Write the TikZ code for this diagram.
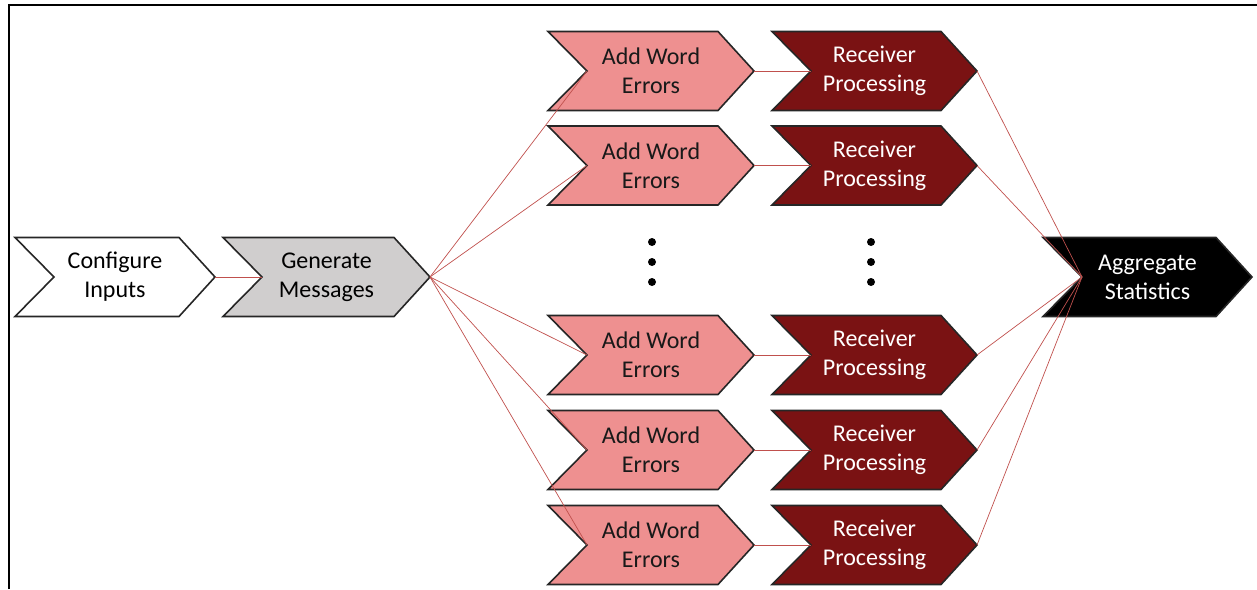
\documentclass[tikz,border=0pt]{standalone}
\usepackage{fontspec}
\setmainfont{Carlito}
\definecolor{genfill}{HTML}{D0CECE}
\definecolor{errfill}{HTML}{EE9090}
\definecolor{recfill}{HTML}{7A1213}
\definecolor{linkred}{HTML}{C0504D}
\tikzset{
  chevshape/.style={draw=black!85, line width=0.8pt, line join=miter},
  chevtext/.style={align=center, inner sep=0pt, font=\fontsize{12}{14.6}\selectfont},
  link/.style={draw=linkred, line width=0.35pt},
  vdot/.style={fill=black}
}
% chevron: name, left x, tip x, centre y, fill, text colour, label
\newcommand\mychevron[7]{%
  \path[chevshape, fill=#5] (#2,#4-39.5) -- (#3-36,#4-39.5) -- (#3,#4)
    -- (#3-36,#4+39.5) -- (#2,#4+39.5) -- (#2+39,#4) -- cycle;
  \node[chevtext, text=#6] (#1) at ({(#2+#3)/2},#4) {#7};
  \coordinate (#1-in) at (#2+39,#4);
  \coordinate (#1-out) at (#3,#4);
}
\begin{document}
\begin{tikzpicture}[x=0.5pt, y=-0.5pt]
\useasboundingbox (0,0) rectangle (1257,589);
% frame
\draw[line width=1pt] (8.5,589) -- (8.5,5) -- (1257,5);

\mychevron{cfg}{15}{215}{277}{white}{black}{Configure\\Inputs}
\mychevron{gen}{223}{430}{277}{genfill}{black}{Generate\\Messages}
\mychevron{agg}{1043}{1252}{277}{black}{white}{Aggregate\\Statistics}

\foreach \r/\yy in {1/71, 2/165.5, 4/355, 5/450, 6/545}{
  \mychevron{err\r}{548}{754}{\yy}{errfill}{black!90}{Add Word\\Errors}
  \mychevron{rec\r}{772}{977}{\yy}{recfill}{white}{Receiver\\Processing}
}

% ellipsis dots for the omitted rows
\foreach \xx in {652, 871}{
  \foreach \yy in {242, 262, 282}{
    \fill[vdot] (\xx,\yy) circle[radius=4];
  }
}

% connectors
\draw[link] (cfg-out) -- (gen-in);
\foreach \r in {1,2,4,5,6}{
  \draw[link] (gen-out) -- (err\r-in);
  \draw[link] (err\r-out) -- (rec\r-in);
  \draw[link] (rec\r-out) -- (agg-in);
}
\end{tikzpicture}
\end{document}
